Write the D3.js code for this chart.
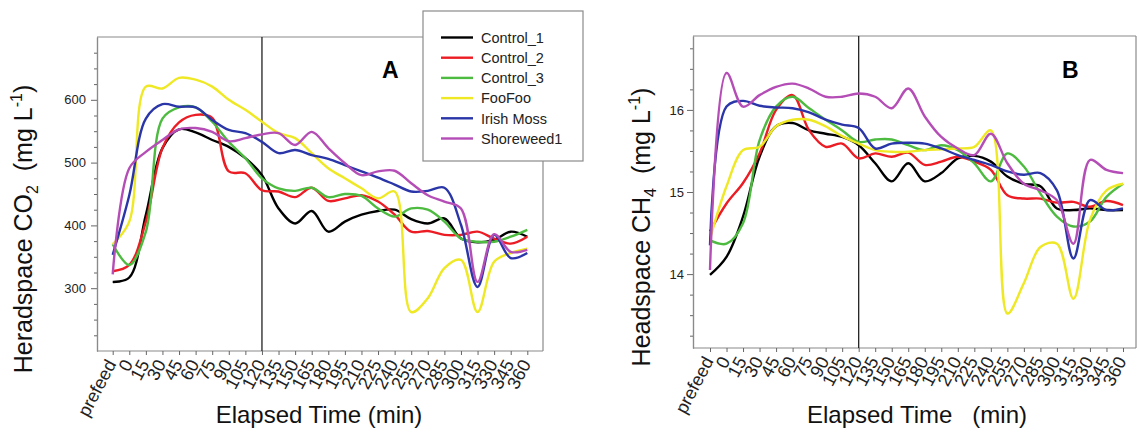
<!DOCTYPE html>
<html><head><meta charset="utf-8">
<script src="https://cdn.jsdelivr.net/npm/d3@7"></script>
<style>
body{margin:0;background:#fff;}
svg{font-family:"Liberation Sans",Arial,Helvetica,sans-serif;}
</style></head>
<body>
<svg id="chart" width="1139" height="432"></svg>
<script>
const categories = ["prefeed","0","15","30","45","60","75","90","105","120","135","150","165","180","195","210","225","240","255","270","285","300","315","330","345","360"];
const seriesNames = ["Control_1","Control_2","Control_3","FooFoo","Irish Moss","Shoreweed1"];
const seriesColors = ["#000000","#ec1c24","#4dbb3f","#efe824","#2a36a8","#b54db6"];

// Panel A: headspace CO2 (mg/L)
const co2Control1 = [310,317,417,523,553,548,536,525,507,480,427,403,423,390,406,417,423,425,410,403,411,379,373,377,390,382];
const co2Control2 = [327,337,406,523,564,576,571,486,483,456,454,445,460,439,443,448,438,417,390,391,385,385,390,379,371,382];
const co2Control3 = [370,337,390,570,588,588,565,533,507,475,459,455,460,445,450,447,427,414,427,425,406,379,374,374,382,393];
const co2FooFoo   = [370,406,621,618,635,632,621,600,584,565,547,539,515,491,475,459,443,454,262,284,332,345,262,342,356,363];
const co2IrishMoss= [353,448,570,593,589,588,568,552,547,533,515,520,512,506,496,486,476,465,454,455,460,401,302,385,348,356];
const co2Shoreweed= [322,491,517,536,553,555,549,534,539,545,547,528,549,523,499,480,486,487,467,448,438,427,310,386,358,361];

// Panel B: headspace CH4 (mg/L)
const ch4Control1 = [13.99,14.21,14.70,15.43,15.80,15.84,15.75,15.71,15.67,15.57,15.35,15.13,15.35,15.13,15.23,15.41,15.44,15.37,15.19,15.10,15.07,14.80,14.78,14.80,14.78,14.78];
const ch4Control2 = [14.52,14.86,15.11,15.47,16.00,16.18,15.75,15.55,15.59,15.41,15.47,15.43,15.48,15.33,15.37,15.43,15.37,15.27,14.96,14.92,14.92,14.87,14.88,14.82,14.89,14.84];
const ch4Control3 = [14.41,14.37,14.62,15.63,16.04,16.16,16.02,15.88,15.75,15.61,15.64,15.64,15.57,15.51,15.57,15.51,15.35,15.13,15.47,15.31,14.98,14.70,14.58,14.64,14.94,15.10];
const ch4FooFoo   = [14.43,15.07,15.51,15.55,15.80,15.88,15.88,15.80,15.68,15.59,15.51,15.49,15.49,15.51,15.52,15.53,15.55,15.75,13.52,13.89,14.33,14.37,13.70,14.66,15.02,15.10];
const ch4IrishMoss= [14.35,16.04,16.11,16.05,16.03,16.02,15.97,15.88,15.82,15.78,15.53,15.59,15.60,15.59,15.53,15.45,15.39,15.33,15.25,15.21,15.23,15.02,14.19,14.90,14.78,14.80];
const ch4Shoreweed= [14.05,16.45,16.04,16.18,16.28,16.32,16.26,16.16,16.16,16.20,16.16,16.02,16.26,15.92,15.67,15.53,15.45,15.71,15.35,15.10,15.02,14.90,14.37,15.39,15.27,15.23];

const co2Major = [300,400,500,600];
const co2Minor = [225,250,275,325,350,375,425,450,475,525,550,575,625,650,675];
const ch4Major = [14,15,16];
const ch4Minor = [13.25,13.5,13.75,14.25,14.5,14.75,15.25,15.5,15.75,16.25,16.5,16.75];

const svg = d3.select("#chart");

function drawPanel(p){
  const g = svg.append("g");
  const x = d3.scalePoint().domain(categories).range([p.x0, p.x1]);
  const y = d3.scaleLinear().domain(p.yDomain).range([p.B, p.T]);
  const clipId = "clip" + p.id;
  svg.append("clipPath").attr("id", clipId).append("rect")
    .attr("x", p.L).attr("y", p.T).attr("width", p.R - p.L).attr("height", p.B - p.T);

  // frame top/right
  g.append("line").attr("x1", p.L).attr("x2", p.topEnd).attr("y1", p.T).attr("y2", p.T)
    .attr("stroke", "#8a8a8a").attr("stroke-width", 1.2);
  g.append("line").attr("x1", p.R).attr("x2", p.R).attr("y1", p.rightStart).attr("y2", p.B)
    .attr("stroke", "#8a8a8a").attr("stroke-width", 1.2);

  // y axis
  const yAx = g.append("g").attr("transform", `translate(${p.L},0)`)
    .call(d3.axisLeft(y).tickValues(p.major).tickSize(6).tickPadding(p.yPad)
      .tickFormat(d3.format("d")).tickSizeOuter(0));
  const yMin = g.append("g").attr("transform", `translate(${p.L},0)`)
    .call(d3.axisLeft(y).tickValues(p.minor).tickSize(3).tickFormat("").tickSizeOuter(0));
  [yAx, yMin].forEach(a => {
    a.select(".domain").attr("stroke", "#8a8a8a").attr("stroke-width", 1.2);
    a.selectAll(".tick line").attr("stroke", "#666");
  });
  yAx.selectAll("text").attr("font-size", 13).attr("fill", "#222")
    .attr("font-family", "'Liberation Sans',Arial,sans-serif");

  // x axis
  const xAx = g.append("g").attr("transform", `translate(0,${p.B})`)
    .call(d3.axisBottom(x).tickSize(4).tickSizeOuter(0));
  xAx.select(".domain").attr("d", `M${p.L},0H${p.R}`).attr("stroke", "#8a8a8a").attr("stroke-width", 1.2);
  xAx.selectAll(".tick line").attr("stroke", "#666");
  xAx.selectAll("text")
    .attr("font-size", 18).attr("fill", "#222")
    .attr("text-anchor", "end").attr("x", 0).attr("y", 0).attr("dy", "0.35em")
    .attr("transform", "translate(-2,10) rotate(-62)");

  // vertical line at 120
  g.append("line").attr("x1", x("120")).attr("x2", x("120"))
    .attr("y1", p.T).attr("y2", p.B).attr("stroke", "#222").attr("stroke-width", 1.3);

  // series
  const line = d3.line().x((d, i) => x(categories[i])).y(d => y(d))
    .curve(d3.curveCatmullRom.alpha(0.5));
  const lg = g.append("g").attr("clip-path", `url(#${clipId})`);
  p.series.forEach((s, k) => {
    lg.append("path").attr("d", line(s)).attr("fill", "none")
      .attr("stroke", seriesColors[k]).attr("stroke-width", 2.4)
      .attr("stroke-linejoin", "round");
  });

  // panel letter
  g.append("text").attr("x", p.letterX).attr("y", p.letterY).text(p.letter)
    .attr("font-size", 23).attr("font-weight", "bold").attr("fill", "#000");

  // x title
  g.append("text").attr("x", p.xTitleX).attr("y", 423).attr("text-anchor", "middle")
    .attr("font-size", 24).attr("fill", "#111").style("white-space", "pre")
    .attr("xml:space", "preserve").text(p.xTitle);

  // y title
  const yt = g.append("text").attr("transform", `translate(${p.yTitleX},${p.yTitleY}) rotate(-90)`)
    .attr("text-anchor", "middle").attr("font-size", 25).attr("fill", "#111")
    .attr("xml:space", "preserve");
  yt.append("tspan").text(p.yT1);
  yt.append("tspan").text(p.yTsub).attr("font-size", 16).attr("dy", 6);
  yt.append("tspan").text("  (mg L").attr("dy", -6);
  yt.append("tspan").text("-1").attr("font-size", 16).attr("dy", -10);
  yt.append("tspan").text(")").attr("dy", 10);
}

drawPanel({
  id: "A", L: 97, R: 543, T: 37, B: 351, x0: 112.7, x1: 527.3, yDomain: [200, 700],
  topEnd: 423, rightStart: 161, major: co2Major, minor: co2Minor, yPad: 5,
  series: [co2Control1, co2Control2, co2Control3, co2FooFoo, co2IrishMoss, co2Shoreweed],
  letter: "A", letterX: 382, letterY: 78,
  xTitle: "Elapsed Time (min)", xTitleX: 319,
  yT1: "Heradspace CO", yTsub: "2", yTitleX: 32, yTitleY: 229
});
drawPanel({
  id: "B", L: 693, R: 1136, T: 36, B: 348, x0: 710, x1: 1123, yDomain: [13.1, 16.9],
  topEnd: 1136, rightStart: 36, major: ch4Major, minor: ch4Minor, yPad: 3,
  series: [ch4Control1, ch4Control2, ch4Control3, ch4FooFoo, ch4IrishMoss, ch4Shoreweed],
  letter: "B", letterX: 1062, letterY: 78,
  xTitle: "Elapsed Time   (min)", xTitleX: 917,
  yT1: "Headspace CH", yTsub: "4", yTitleX: 650, yTitleY: 227
});

// legend
const leg = svg.append("g");
leg.append("rect").attr("x", 423).attr("y", 11).attr("width", 160).attr("height", 150)
  .attr("fill", "#fff").attr("stroke", "#8a8a8a").attr("stroke-width", 1.2);
seriesNames.forEach((n, i) => {
  const yy = 37.5 + i * 20.2;
  leg.append("line").attr("x1", 441).attr("x2", 473).attr("y1", yy).attr("y2", yy)
    .attr("stroke", seriesColors[i]).attr("stroke-width", 2.4);
  leg.append("text").attr("x", 481).attr("y", yy).attr("dy", "0.36em").text(n)
    .attr("font-size", 14.5).attr("fill", "#222");
});
</script>
</body></html>
